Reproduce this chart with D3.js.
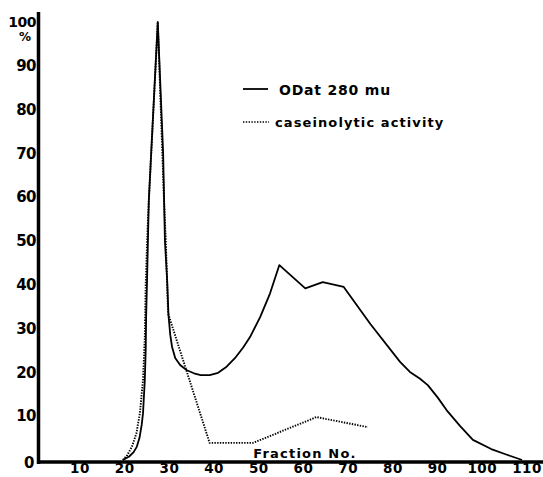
<!DOCTYPE html>
<html><head><meta charset="utf-8">
<script src="https://cdn.jsdelivr.net/npm/d3@7"></script>
<style>
html,body{margin:0;padding:0;background:#fff;}
svg text{font-family:"DejaVu Sans",sans-serif;font-weight:bold;fill:#000;}
</style></head>
<body>
<svg id="chart" width="543" height="477"></svg>
<script>
// Data
const xTicks = [10,20,30,40,50,60,70,80,90,100,110];
const yTicks = [0,10,20,30,40,50,60,70,80,90,100];
const odFraction = [19.6,21,22,22.7,23.3,23.8,24.1,24.5,24.7,24.8,25.0,25.4,27.4,28.6,29.0,29.5,29.8,30.2,30.6,31.3,32.4,33.9,35.5,37,39,40.9,42.8,44.7,46.5,48,50.3,52.5,54.6,60.4,64.3,69,75,81.6,83.8,86,87.8,90,92,95,97.9,102,105.5,108.9];
const odValue    = [0,0.8,1.8,3,5,8,10.7,18.3,25,33,41,59.4,100,70,50,41,33,28.5,25.8,23.3,21.7,20.5,19.8,19.4,19.4,19.9,21.3,23.3,25.7,28,32.6,38,44.5,39.2,40.6,39.5,31,22.4,20.1,18.6,17.1,14.3,11.4,7.8,4.6,2.5,1.2,0];
const caseFraction = [19.6,20.5,21.6,22.6,23.4,24.1,24.5,24.7,25.2,27.4,28.8,29.2,29.7,39,48.7,62.9,74.4];
const caseValue    = [0,1,3,6,10.7,18.3,28,40,55,100,59,50,33.5,3.9,3.9,9.8,7.5];
const legendLabels = ["ODat 280 mu","caseinolytic activity"];

const svg = d3.select("#chart");
const x = d3.scaleLinear().domain([0,110]).range([35.3,527]);
const y = d3.scaleLinear().domain([0,100]).range([460,22]);

// axes
svg.append("line").attr("x1",38.5).attr("x2",38.5).attr("y1",12).attr("y2",464)
  .attr("stroke","#000").attr("stroke-width",3.5);
svg.append("line").attr("x1",37).attr("x2",543).attr("y1",462).attr("y2",462)
  .attr("stroke","#000").attr("stroke-width",3.5);

// y tick labels
svg.selectAll(".yl").data(yTicks).enter().append("text")
  .attr("x",d=> d===0 ? 34 : 36).attr("y",d=>y(d)).attr("dy", d=> d===0 ? "0.55em" : "0.35em")
  .attr("text-anchor","end").attr("font-size", d=> d===100 ? 14 : 15)
  .attr("letter-spacing", -0.5)
  .text(d=>d);
svg.append("text").attr("x",25).attr("y",41).attr("text-anchor","middle")
  .attr("font-size",12).text("%");

// x tick labels
svg.selectAll(".xl").data(xTicks).enter().append("text")
  .attr("x",d=>x(d)).attr("y",473).attr("text-anchor","middle")
  .attr("font-size",13.5).attr("letter-spacing",0.5).text(d=>d);

svg.append("text").attr("x",305).attr("y",458).attr("text-anchor","middle")
  .attr("font-size",13).attr("font-weight","normal").attr("letter-spacing",1.2).text("Fraction No.");

const line = d3.line().x(d=>x(d[0])).y(d=>y(d[1])).curve(d3.curveLinear);
const odData = odFraction.map((f,i)=>[f,odValue[i]]);
const caseData = caseFraction.map((f,i)=>[f,caseValue[i]]);

svg.append("path").datum(caseData).attr("d",line).attr("fill","none")
  .attr("stroke","#000").attr("stroke-width",1.9).attr("stroke-dasharray","1.4,1.3");
svg.append("path").datum(odData).attr("d",line).attr("fill","none")
  .attr("stroke","#000").attr("stroke-width",1.8).attr("stroke-linejoin","round");

// legend
svg.append("line").attr("x1",243).attr("x2",268).attr("y1",89).attr("y2",89)
  .attr("stroke","#000").attr("stroke-width",1.8);
svg.append("text").attr("x",279).attr("y",95).attr("font-size",14).attr("letter-spacing",0.8).text(legendLabels[0]);
svg.append("line").attr("x1",243).attr("x2",269).attr("y1",122).attr("y2",122)
  .attr("stroke","#000").attr("stroke-width",1.5).attr("stroke-dasharray","1.4,1.4");
svg.append("text").attr("x",275).attr("y",127).attr("font-size",13).attr("letter-spacing",1.1).text(legendLabels[1]);
</script>
</body></html>
